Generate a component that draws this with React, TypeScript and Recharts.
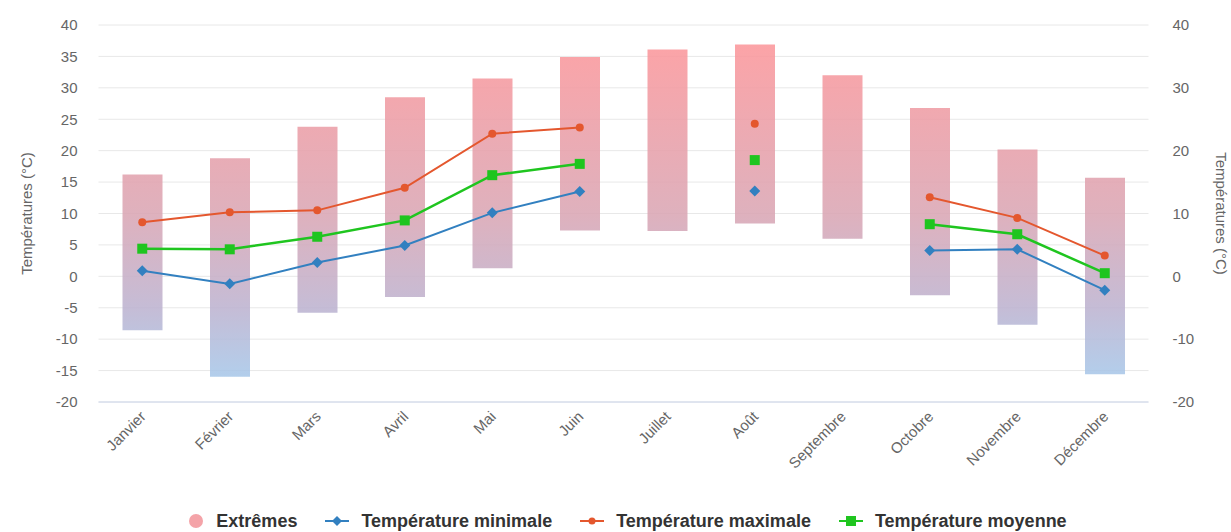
import {
  Bar,
  CartesianGrid,
  ComposedChart,
  Legend,
  Line,
  XAxis,
  YAxis,
} from "recharts";

const months = [
  "Janvier", "Février", "Mars", "Avril", "Mai", "Juin",
  "Juillet", "Août", "Septembre", "Octobre", "Novembre", "Décembre",
];
const extremeLow = [-8.6, -16.0, -5.8, -3.3, 1.3, 7.3, 7.2, 8.4, 6.0, -3.0, -7.7, -15.6];
const extremeHigh = [16.2, 18.8, 23.8, 28.5, 31.5, 34.9, 36.1, 36.9, 32.0, 26.8, 20.2, 15.7];
const tempMin = [0.9, -1.2, 2.2, 4.9, 10.1, 13.5, null, 13.6, null, 4.1, 4.3, -2.2];
const tempMax = [8.6, 10.2, 10.5, 14.1, 22.7, 23.7, null, 24.3, null, 12.6, 9.3, 3.3];
const tempMoy = [4.4, 4.3, 6.3, 8.9, 16.1, 17.9, null, 18.5, null, 8.3, 6.7, 0.5];
const leftTicks = [-20, -15, -10, -5, 0, 5, 10, 15, 20, 25, 30, 35, 40];
const rightTicks = [-20, -10, 0, 10, 20, 30, 40];

const data = months.map((month, i) => ({
  month,
  extremes: [extremeLow[i], extremeHigh[i]],
  min: tempMin[i],
  max: tempMax[i],
  moy: tempMoy[i],
}));

const FONT = "'Liberation Sans', Arial, sans-serif";
const MIN_COLOR = "#3280c0";
const MAX_COLOR = "#e4572e";
const MOY_COLOR = "#1fc51f";

function MonthTick({ x, y, payload }: any) {
  const tx = x + 1;
  const ty = y + 4;
  return (
    <text
      x={tx}
      y={ty}
      dy={5}
      textAnchor="end"
      transform={`rotate(-45 ${tx} ${ty})`}
      fontSize={15}
      fill="#666"
      fontFamily={FONT}
    >
      {payload.value}
    </text>
  );
}

function squareDot(props: any) {
  const { cx, cy, index } = props;
  if (cx == null || cy == null) return <g key={index} />;
  return <rect key={index} x={cx - 5} y={cy - 5} width={10} height={10} fill={MOY_COLOR} />;
}

function diamondDot(props: any) {
  const { cx, cy, index } = props;
  if (cx == null || cy == null) return <g key={index} />;
  return (
    <path
      key={index}
      d={`M${cx} ${cy - 5.5}L${cx + 5.5} ${cy}L${cx} ${cy + 5.5}L${cx - 5.5} ${cy}Z`}
      fill={MIN_COLOR}
    />
  );
}

function LegendBox() {
  const item = { display: "flex", alignItems: "center", gap: 12 } as const;
  const text = { fontWeight: 700, fontSize: 18, color: "#333" } as const;
  return (
    <div
      style={{
        height: 40,
        paddingTop: 18,
        boxSizing: "border-box",
        display: "flex",
        justifyContent: "center",
        alignItems: "center",
        gap: 28,
        paddingLeft: 24,
        fontFamily: FONT,
      }}
    >
      <div style={item}>
        <svg width={16} height={16}>
          <circle cx={8} cy={8} r={7} fill="#f4a3a8" />
        </svg>
        <span style={text}>Extrêmes</span>
      </div>
      <div style={item}>
        <svg width={24} height={14}>
          <line x1={0} y1={7} x2={24} y2={7} stroke={MIN_COLOR} strokeWidth={2} />
          <path d="M12 2L17 7L12 12L7 7Z" fill={MIN_COLOR} />
        </svg>
        <span style={text}>Température minimale</span>
      </div>
      <div style={item}>
        <svg width={24} height={14}>
          <line x1={0} y1={7} x2={24} y2={7} stroke={MAX_COLOR} strokeWidth={2} />
          <circle cx={12} cy={7} r={3.5} fill={MAX_COLOR} />
        </svg>
        <span style={text}>Température maximale</span>
      </div>
      <div style={item}>
        <svg width={24} height={14}>
          <line x1={0} y1={7} x2={24} y2={7} stroke={MOY_COLOR} strokeWidth={2} />
          <rect x={7} y={2} width={10} height={10} fill={MOY_COLOR} />
        </svg>
        <span style={text}>Température moyenne</span>
      </div>
    </div>
  );
}

export default function App() {
  return (
    <div style={{ position: "absolute", left: 0, top: 0, width: 1231, height: 532, background: "#fff" }}>
      <ComposedChart
        width={1231}
        height={532}
        data={data}
        margin={{ top: 25, right: 0, bottom: 0, left: 0 }}
      >
        <defs>
          <linearGradient id="extGrad" gradientUnits="userSpaceOnUse" x1={0} y1={25} x2={0} y2={402}>
            <stop offset="0%" stopColor="#ff9598" />
            <stop offset="50%" stopColor="#daa6b4" />
            <stop offset="75%" stopColor="#bdb3d0" />
            <stop offset="100%" stopColor="#a0cff2" />
          </linearGradient>
        </defs>
        <CartesianGrid yAxisId="left" vertical={false} stroke="#e8e8e8" />
        <XAxis
          dataKey="month"
          height={90}
          interval={0}
          tickLine={false}
          axisLine={{ stroke: "#ccd6eb" }}
          tick={<MonthTick />}
        />
        <YAxis
          yAxisId="left"
          width={98.5}
          domain={[-20, 40]}
          ticks={leftTicks}
          interval={0}
          axisLine={false}
          tickLine={false}
          tickMargin={15}
          tick={{ fontSize: 15, fill: "#666", fontFamily: FONT }}
          label={{
            value: "Températures (°C)",
            angle: -90,
            position: "center",
            dx: -23,
            style: { fontSize: 15, fill: "#666", fontFamily: FONT },
          }}
        />
        <YAxis
          yAxisId="right"
          orientation="right"
          width={82.5}
          domain={[-20, 40]}
          ticks={rightTicks}
          interval={0}
          axisLine={false}
          tickLine={false}
          tickMargin={18}
          tick={{ fontSize: 15, fill: "#666", fontFamily: FONT, textAnchor: "start" }}
          label={{
            value: "Températures (°C)",
            angle: 90,
            position: "center",
            dx: 32,
            style: { fontSize: 15, fill: "#666", fontFamily: FONT },
          }}
        />
        <Legend height={40} verticalAlign="bottom" content={() => <LegendBox />} />
        <Bar
          yAxisId="left"
          dataKey="extremes"
          name="Extrêmes"
          barSize={40}
          fill="url(#extGrad)"
          fillOpacity={0.88}
          isAnimationActive={false}
        />
        <Line
          yAxisId="left"
          dataKey="min"
          name="Température minimale"
          stroke={MIN_COLOR}
          strokeWidth={2}
          dot={diamondDot}
          activeDot={false}
          isAnimationActive={false}
        />
        <Line
          yAxisId="right"
          dataKey="max"
          name="Température maximale"
          stroke={MAX_COLOR}
          strokeWidth={2}
          dot={{ r: 4, fill: MAX_COLOR, stroke: MAX_COLOR, strokeWidth: 0 }}
          activeDot={false}
          isAnimationActive={false}
        />
        <Line
          yAxisId="left"
          dataKey="moy"
          name="Température moyenne"
          stroke={MOY_COLOR}
          strokeWidth={2.5}
          dot={squareDot}
          activeDot={false}
          isAnimationActive={false}
        />
      </ComposedChart>
    </div>
  );
}
